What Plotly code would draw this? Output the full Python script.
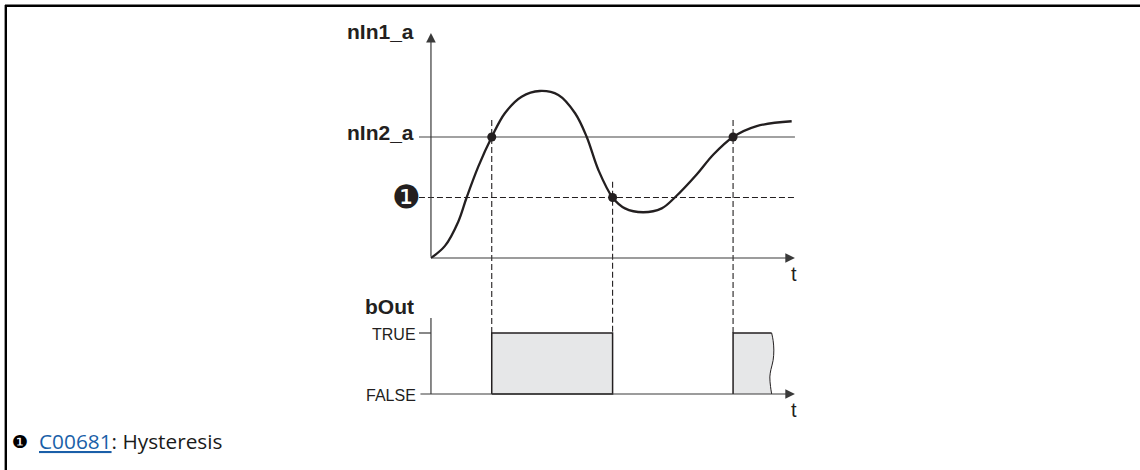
import plotly.graph_objects as go

# ---------------- data ----------------
# analog input signal nIn1_a over time (arbitrary time units)
t_curve = [0.0, 0.385, 0.75, 0.98, 1.30, 1.67, 2.03, 2.49, 2.99, 3.50, 3.96, 4.28,
           4.60, 4.99, 5.33, 5.83, 6.34, 6.70, 7.30, 7.76, 8.30, 8.95, 9.91]
v_curve = [0.0, 0.10, 0.30, 0.50, 0.755, 1.0, 1.196, 1.333, 1.38, 1.347, 1.196, 1.0,
           0.727, 0.50, 0.41, 0.378, 0.41, 0.50, 0.69, 0.855, 1.0, 1.09, 1.13]

NIN2_A = 1.0          # comparison value nIn2_a
HYSTERESIS = 0.5      # nIn2_a - hysteresis (C00681)
switch_t = [1.67, 4.99, 8.30]     # switching instants
switch_v = [1.0, 0.5, 1.0]        # signal value at the switching instants
switch_top = [1.14, 0.63, 1.14]   # where the dashed guide lines begin
T_END = 10.0          # end of the time axes
V_AXIS_TOP = 1.86     # end of the nIn1_a axis
B_AXIS_TOP = 1.246    # end of the bOut axis
TICK_LEFT = -0.33     # left end of level / tick lines

bool_labels = ["FALSE", "TRUE"]
bool_values = [0, 1]
# break (cut) edge of the last TRUE pulse
break_t = [9.36, 9.40, 9.42, 9.40, 9.34, 9.31, 9.33, 9.36]
break_b = [1.0, 0.88, 0.72, 0.55, 0.40, 0.28, 0.12, 0.0]

# axis ranges (full-figure overlay)
X_RANGE = [-11.84, 19.48]
Y_RANGE = [-1.752, 2.132]
Y2_RANGE = [-1.246, 6.459]

INK = "#231f20"
AXIS = "#3a3a3a"
FILL = "#e6e7e8"


def y_to_paper(v):
    return (v - Y_RANGE[0]) / (Y_RANGE[1] - Y_RANGE[0])


def y2_to_paper(b):
    return (b - Y2_RANGE[0]) / (Y2_RANGE[1] - Y2_RANGE[0])


fig = go.Figure()

# level lines
fig.add_trace(go.Scatter(x=[TICK_LEFT, T_END], y=[NIN2_A, NIN2_A], mode="lines",
                         line=dict(color="#444444", width=1.2), hoverinfo="skip"))
fig.add_trace(go.Scatter(x=[TICK_LEFT, T_END], y=[HYSTERESIS, HYSTERESIS], mode="lines",
                         line=dict(color=INK, width=1.1, dash="6px,3px"), hoverinfo="skip"))

# pulses of bOut
pulse1_t = [switch_t[0], switch_t[0], switch_t[1], switch_t[1], switch_t[0]]
pulse1_b = [0, 1, 1, 0, 0]
fig.add_trace(go.Scatter(x=pulse1_t, y=pulse1_b, yaxis="y2", mode="lines", fill="toself",
                         fillcolor=FILL, line=dict(color=INK, width=1.5), hoverinfo="skip"))
pulse2_t = [switch_t[2], switch_t[2]] + break_t + [switch_t[2]]
pulse2_b = [0, 1] + break_b + [0]
fig.add_trace(go.Scatter(x=pulse2_t, y=pulse2_b, yaxis="y2", mode="lines", fill="toself",
                         fillcolor=FILL, line=dict(color="rgba(0,0,0,0)", width=0), hoverinfo="skip"))
fig.add_trace(go.Scatter(x=[switch_t[2], switch_t[2], break_t[0]], y=[0, 1, 1], yaxis="y2",
                         mode="lines", line=dict(color=INK, width=1.5), hoverinfo="skip"))
fig.add_trace(go.Scatter(x=break_t, y=break_b, yaxis="y2", mode="lines",
                         line=dict(color=INK, width=1.0, shape="spline"), hoverinfo="skip"))

# bOut axis + ticks
fig.add_trace(go.Scatter(x=[0, 0], y=[0, B_AXIS_TOP], yaxis="y2", mode="lines",
                         line=dict(color=AXIS, width=1.2), hoverinfo="skip"))
fig.add_trace(go.Scatter(x=[TICK_LEFT, 0], y=[1, 1], yaxis="y2", mode="lines",
                         line=dict(color=AXIS, width=1.2), hoverinfo="skip"))

# signal curve
fig.add_trace(go.Scatter(x=t_curve, y=v_curve, mode="lines",
                         line=dict(color=INK, width=2.3, shape="spline", smoothing=1.0),
                         hoverinfo="skip"))
# switching points
fig.add_trace(go.Scatter(x=switch_t, y=switch_v, mode="markers",
                         marker=dict(color=INK, size=9), hoverinfo="skip"))

shapes = []
# dashed guide lines from the switching points down to the TRUE level
for ts, vt in zip(switch_t, switch_top):
    shapes.append(dict(type="line", xref="x", yref="paper", x0=ts, x1=ts,
                       y0=y_to_paper(vt), y1=y2_to_paper(1),
                       line=dict(color=INK, width=1.1, dash="6px,3px"), layer="below"))
# frame
shapes.append(dict(type="line", xref="paper", yref="paper", x0=5.0 / 1140, x1=1,
                   y0=1 - 5.8 / 470, y1=1 - 5.8 / 470, line=dict(color="black", width=2.4)))
shapes.append(dict(type="line", xref="paper", yref="paper", x0=5.8 / 1140, x1=5.8 / 1140,
                   y0=0, y1=1 - 5.0 / 470, line=dict(color="black", width=2.4)))

ann = []
# axes as arrows
arrow_common = dict(showarrow=True, arrowhead=2, arrowsize=1.6, arrowwidth=1.2,
                    arrowcolor=AXIS, text="", standoff=0, startstandoff=0)
ann.append(dict(x=0, y=V_AXIS_TOP, ax=0, ay=0, xref="x", yref="y", axref="x", ayref="y",
                **arrow_common))
ann.append(dict(x=T_END, y=0, ax=0, ay=0, xref="x", yref="y", axref="x", ayref="y",
                **arrow_common))
ann.append(dict(x=T_END, y=0, ax=TICK_LEFT, ay=0, xref="x", yref="y2", axref="x", ayref="y2",
                **arrow_common))

bold = dict(family="Liberation Sans, Arial, sans-serif", size=21, color=INK)
reg = dict(family="Liberation Sans, Arial, sans-serif", size=16, color=INK)
tfont = dict(family="Liberation Sans, Arial, sans-serif", size=20, color=INK)
ann.append(dict(x=-0.40, y=1.87, xref="x", yref="y", text="<b>nIn1_a</b>", showarrow=False,
                xanchor="right", yanchor="middle", font=bold))
ann.append(dict(x=-0.40, y=NIN2_A + 0.04, xref="x", yref="y", text="<b>nIn2_a</b>",
                showarrow=False, xanchor="right", yanchor="middle", font=bold))
ann.append(dict(x=-0.67, y=HYSTERESIS, xref="x", yref="y", text="❶", showarrow=False,
                xanchor="center", yanchor="middle",
                font=dict(family="DejaVu Sans", size=32, color=INK)))
ann.append(dict(x=9.97, y=-0.13, xref="x", yref="y", text="t", showarrow=False,
                xanchor="center", yanchor="middle", font=tfont))
ann.append(dict(x=-0.40, y=1.43, xref="x", yref="y2", text="<b>bOut</b>", showarrow=False,
                xanchor="right", yanchor="middle", font=bold))
for lab, bv in zip(bool_labels, bool_values):
    ann.append(dict(x=-0.36, y=bv - 0.02, xref="x", yref="y2", text=lab, showarrow=False,
                    xanchor="right", yanchor="middle", font=reg))
ann.append(dict(x=9.97, y=-0.26, xref="x", yref="y2", text="t", showarrow=False,
                xanchor="center", yanchor="middle", font=tfont))

# footnote
ann.append(dict(x=20 / 1140, y=1 - 441 / 470, xref="paper", yref="paper", text="❶",
                showarrow=False, xanchor="center", yanchor="middle",
                font=dict(family="DejaVu Sans", size=18, color="black")))
ann.append(dict(x=37 / 1140, y=1 - 441 / 470, xref="paper", yref="paper",
                text='<a href="#C00681" style="color:#1a5fa8;text-decoration:underline">C00681</a>: Hysteresis',
                showarrow=False, xanchor="left", yanchor="middle",
                font=dict(family="Open Sans", size=20.8, color="#1a1a1a")))

fig.update_layout(
    width=1140, height=470,
    margin=dict(l=0, r=0, t=0, b=0),
    paper_bgcolor="white", plot_bgcolor="white",
    showlegend=False,
    xaxis=dict(range=X_RANGE, visible=False, fixedrange=True),
    yaxis=dict(range=Y_RANGE, visible=False, fixedrange=True),
    yaxis2=dict(range=Y2_RANGE, visible=False, overlaying="y", fixedrange=True),
    shapes=shapes,
    annotations=ann,
)

fig.write_html("out.html", config={"displayModeBar": False},
               post_script="document.body.style.margin='0';document.body.style.overflow='hidden';")
